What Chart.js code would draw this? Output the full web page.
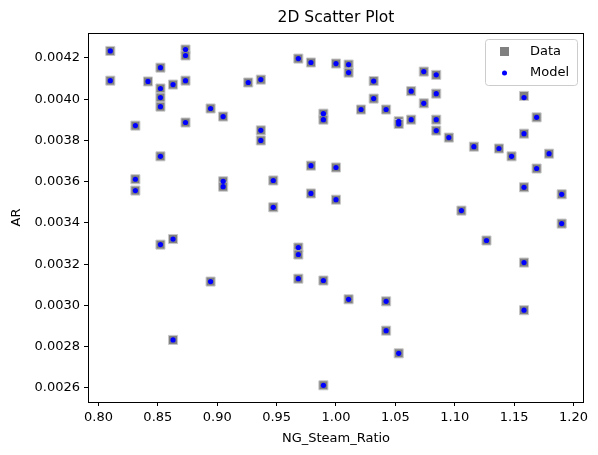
<!DOCTYPE html>
<html>
<head>
<meta charset="utf-8">
<script src="https://cdn.jsdelivr.net/npm/chart.js@4"></script>
<style>
  body { margin: 0; background: #fff; }
  canvas { display: block; }
</style>
</head>
<body>
<canvas id="scatterChart" width="598" height="455"></canvas>
<script>
// ------------------------
// DATA
// ------------------------
const steamRatio = [
    0.81, 0.81, 0.8311, 0.8311, 0.8311, 0.8417, 0.8522, 0.8522, 0.8522, 0.8522,
    0.8522, 0.8522, 0.8628, 0.8628, 0.8628, 0.8733, 0.8733, 0.8733, 0.8733, 0.8944,
    0.8944, 0.9050, 0.9050, 0.9050, 0.9261, 0.9367, 0.9367, 0.9367, 0.9472, 0.9472,
    0.9683, 0.9683, 0.9683, 0.9683, 0.9789, 0.9789, 0.9789, 0.9894, 0.9894, 0.9894,
    0.9894, 1.0000, 1.0000, 1.0000, 1.0106, 1.0106, 1.0106, 1.0211, 1.0317, 1.0317,
    1.0422, 1.0422, 1.0422, 1.0528, 1.0528, 1.0528, 1.0633, 1.0633, 1.0739, 1.0739,
    1.0844, 1.0844, 1.0844, 1.0844, 1.0950, 1.1056, 1.1161, 1.1267, 1.1372, 1.1478,
    1.1583, 1.1583, 1.1583, 1.1583, 1.1583, 1.1689, 1.1689, 1.1794, 1.19, 1.19
];
const dataAR = [
    0.004234, 0.004090, 0.003872, 0.003612, 0.003557, 0.004086, 0.004153, 0.004052, 0.004008, 0.003964,
    0.003723, 0.003295, 0.004071, 0.003322, 0.002833, 0.004241, 0.004212, 0.004090, 0.003887, 0.003116,
    0.003955, 0.003916, 0.003602, 0.003576, 0.004081, 0.004095, 0.003849, 0.003800, 0.003606, 0.003476,
    0.004197, 0.003281, 0.003247, 0.003130, 0.004178, 0.003678, 0.003543, 0.003930, 0.003901, 0.003121,
    0.002613, 0.004173, 0.003669, 0.003513, 0.004168, 0.004129, 0.003030, 0.003950, 0.004088, 0.004003,
    0.003950, 0.003020, 0.002878, 0.003893, 0.003880, 0.002768, 0.004039, 0.003901, 0.004134, 0.003980,
    0.004118, 0.004027, 0.003901, 0.003848, 0.003814, 0.003460, 0.003770, 0.003315, 0.003761, 0.003723,
    0.004016, 0.003833, 0.003573, 0.003208, 0.002977, 0.003912, 0.003664, 0.003736, 0.003539, 0.003397
];
// model sits on top of the data in the picture
const modelAR = [
    0.004234, 0.004090, 0.003872, 0.003612, 0.003557, 0.004086, 0.004153, 0.004052, 0.004008, 0.003964,
    0.003723, 0.003295, 0.004071, 0.003322, 0.002833, 0.004241, 0.004212, 0.004090, 0.003887, 0.003116,
    0.003955, 0.003916, 0.003602, 0.003576, 0.004081, 0.004095, 0.003849, 0.003800, 0.003606, 0.003476,
    0.004197, 0.003281, 0.003247, 0.003130, 0.004178, 0.003678, 0.003543, 0.003930, 0.003901, 0.003121,
    0.002613, 0.004173, 0.003669, 0.003513, 0.004168, 0.004129, 0.003030, 0.003950, 0.004088, 0.004003,
    0.003950, 0.003020, 0.002878, 0.003893, 0.003880, 0.002768, 0.004039, 0.003901, 0.004134, 0.003980,
    0.004118, 0.004027, 0.003901, 0.003848, 0.003814, 0.003460, 0.003770, 0.003315, 0.003761, 0.003723,
    0.004008, 0.003833, 0.003573, 0.003208, 0.002977, 0.003912, 0.003664, 0.003736, 0.003539, 0.003397
];
const xTicks = [0.80, 0.85, 0.90, 0.95, 1.00, 1.05, 1.10, 1.15, 1.20];
const yTicks = [0.0026, 0.0028, 0.0030, 0.0032, 0.0034, 0.0036, 0.0038, 0.0040, 0.0042];

const FONT = 'DejaVu Sans';

function toPoints(xs, ys) {
    return xs.map((x, i) => ({ x: x, y: ys[i] }));
}

// frame, title and in-plot legend like matplotlib
const mplLook = {
    id: 'mplLook',
    afterDraw(chart) {
        const ctx = chart.ctx;
        const a = chart.chartArea;
        ctx.save();
        ctx.strokeStyle = '#000';
        ctx.lineWidth = 1;
        ctx.strokeRect(Math.round(a.left) + 0.5, Math.round(a.top) + 0.5,
            Math.round(a.right - a.left) - 1, Math.round(a.bottom - a.top));

        ctx.fillStyle = '#000';
        ctx.font = '15.5px "' + FONT + '"';
        ctx.textAlign = 'center';
        ctx.textBaseline = 'middle';
        ctx.fillText('2D Scatter Plot', (a.left + a.right) / 2, 18);

        // legend box
        const bx = a.right - 99, by = a.top + 6, bw = 92, bh = 46;
        ctx.beginPath();
        ctx.roundRect(bx + 0.5, by + 0.5, bw, bh, 3);
        ctx.fillStyle = 'rgba(255,255,255,0.8)';
        ctx.fill();
        ctx.strokeStyle = '#cccccc';
        ctx.stroke();

        ctx.fillStyle = '#808080';
        ctx.fillRect(bx + 15, by + 8, 9, 9);
        ctx.fillStyle = '#0000ff';
        ctx.beginPath();
        ctx.arc(bx + 19.5, by + 34, 2.5, 0, Math.PI * 2);
        ctx.fill();

        ctx.fillStyle = '#000';
        ctx.font = '13px "' + FONT + '"';
        ctx.textAlign = 'left';
        ctx.fillText('Data', bx + 45, by + 13);
        ctx.fillText('Model', bx + 45, by + 34);
        ctx.restore();
    }
};

new Chart(document.getElementById('scatterChart').getContext('2d'), {
    type: 'scatter',
    data: {
        datasets: [
            {
                label: 'Data',
                data: toPoints(steamRatio, dataAR),
                pointStyle: 'rect',
                pointRadius: 6.4,
                backgroundColor: '#808080',
                borderColor: '#c8c8c8',
                borderWidth: 1,
                order: 2
            },
            {
                label: 'Model',
                data: toPoints(steamRatio, modelAR),
                pointStyle: 'circle',
                pointRadius: 2.6,
                backgroundColor: '#0000ff',
                borderWidth: 0,
                order: 1
            }
        ]
    },
    options: {
        responsive: false,
        animation: false,
        events: [],
        layout: { padding: { top: 33, right: 14, left: 0, bottom: 0 } },
        plugins: {
            legend: { display: false },
            title: { display: false },
            tooltip: { enabled: false }
        },
        scales: {
            x: {
                type: 'linear',
                min: 0.7912,
                max: 1.2088,
                afterBuildTicks: s => { s.ticks = xTicks.map(v => ({ value: v })); },
                afterFit: s => { s.height = 53; },
                grid: { drawOnChartArea: false, color: '#000', tickLength: 4, tickWidth: 1 },
                border: { display: false },
                ticks: {
                    color: '#000',
                    padding: 4,
                    maxRotation: 0,
                    font: { family: FONT, size: 13 },
                    callback: v => v.toFixed(2)
                },
                title: {
                    display: true,
                    text: 'NG_Steam_Ratio',
                    color: '#000',
                    padding: 9,
                    font: { family: FONT, size: 13 }
                }
            },
            y: {
                type: 'linear',
                min: 0.002532,
                max: 0.004321,
                afterBuildTicks: s => { s.ticks = yTicks.map(v => ({ value: v })); },
                afterFit: s => { s.width = 88; },
                grid: { drawOnChartArea: false, color: '#000', tickLength: 4, tickWidth: 1 },
                border: { display: false },
                ticks: {
                    color: '#000',
                    padding: 4,
                    font: { family: FONT, size: 13 },
                    callback: v => v.toFixed(4)
                },
                title: {
                    display: true,
                    text: 'AR',
                    color: '#000',
                    padding: 9,
                    font: { family: FONT, size: 13 }
                }
            }
        }
    },
    plugins: [mplLook]
});
</script>
</body>
</html>
